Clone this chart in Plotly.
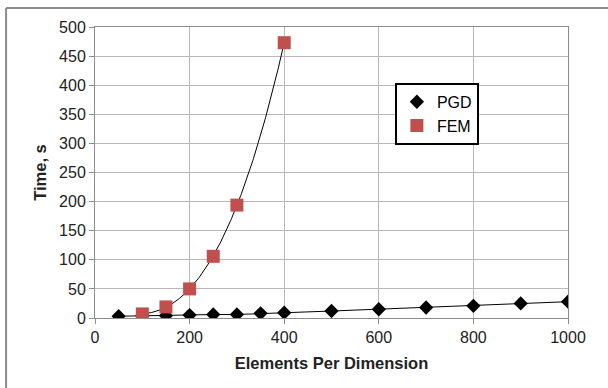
import numpy as np
import plotly.graph_objects as go

pgd_x = [50, 100, 150, 200, 250, 300, 350, 400, 500, 600, 700, 800, 900, 1000]
pgd_y = [3, 4, 4, 5, 6, 6, 8, 9, 12, 15, 18, 21, 25, 28]
fem_x = [100, 150, 200, 250, 300, 400]
fem_y = [7, 19, 50, 106, 194, 473]

# polynomial trendline fitted to FEM data (as in spreadsheet)
coef = np.polyfit(fem_x, fem_y, 3)
tx = np.linspace(min(fem_x), max(fem_x), 200)
ty = np.polyval(coef, tx)

fig = go.Figure()
fig.add_trace(go.Scatter(x=tx, y=ty, mode="lines", line=dict(color="black", width=1),
                         showlegend=False, hoverinfo="skip"))
fig.add_trace(go.Scatter(x=pgd_x, y=pgd_y, mode="lines", line=dict(color="black", width=1),
                         showlegend=False, hoverinfo="skip", legendgroup="pgd"))
fig.add_trace(go.Scatter(x=pgd_x, y=pgd_y, mode="markers", name="PGD", legendgroup="pgd",
                         marker=dict(symbol="diamond", size=11, color="black")))
fig.add_trace(go.Scatter(x=fem_x, y=fem_y, mode="markers", name="FEM",
                         marker=dict(symbol="square", size=13, color="#C0504D")))

font = "Liberation Sans, Arial, sans-serif"
fig.update_layout(
    width=608, height=388,
    margin=dict(l=95, r=40, t=27, b=70),
    paper_bgcolor="white", plot_bgcolor="white",
    font=dict(family=font, size=16, color="#222"),
    legend=dict(x=0.634, y=0.808, xanchor="left", yanchor="top",
                bordercolor="black", borderwidth=2, bgcolor="white",
                font=dict(family=font, size=16, color="black"),
                itemwidth=30, tracegroupgap=0),
    xaxis=dict(range=[0, 1000], tickvals=[0, 200, 400, 600, 800, 1000],
               showgrid=True, gridcolor="#b8b8b8", gridwidth=1,
               showline=True, linecolor="#8c8c8c", linewidth=1, mirror=True,
               ticks="outside", ticklen=5, tickcolor="#8c8c8c",
               zeroline=False, tickfont=dict(size=16),
               title=dict(text="<b>Elements Per Dimension</b>", standoff=12,
                          font=dict(family=font, size=16.5, color="#222"))),
    yaxis=dict(range=[0, 500], dtick=50,
               showgrid=True, gridcolor="#b8b8b8", gridwidth=1,
               showline=True, linecolor="#8c8c8c", linewidth=1, mirror=True,
               ticks="outside", ticklen=5, tickcolor="#8c8c8c",
               zeroline=False, tickfont=dict(size=16),
               title=dict(text="<b>Time, s</b>", standoff=8,
                          font=dict(family=font, size=16.5, color="#222"))),
    shapes=[
        dict(type="line", xref="paper", yref="paper", x0=-0.188, x1=1.2, y0=1.065, y1=1.065,
             line=dict(color="#8c8c8c", width=2)),
        dict(type="line", xref="paper", yref="paper", x0=-0.188, x1=-0.188, y0=1.065, y1=-0.3,
             line=dict(color="#8c8c8c", width=2)),
    ],
)
fig.write_html("out.html")
